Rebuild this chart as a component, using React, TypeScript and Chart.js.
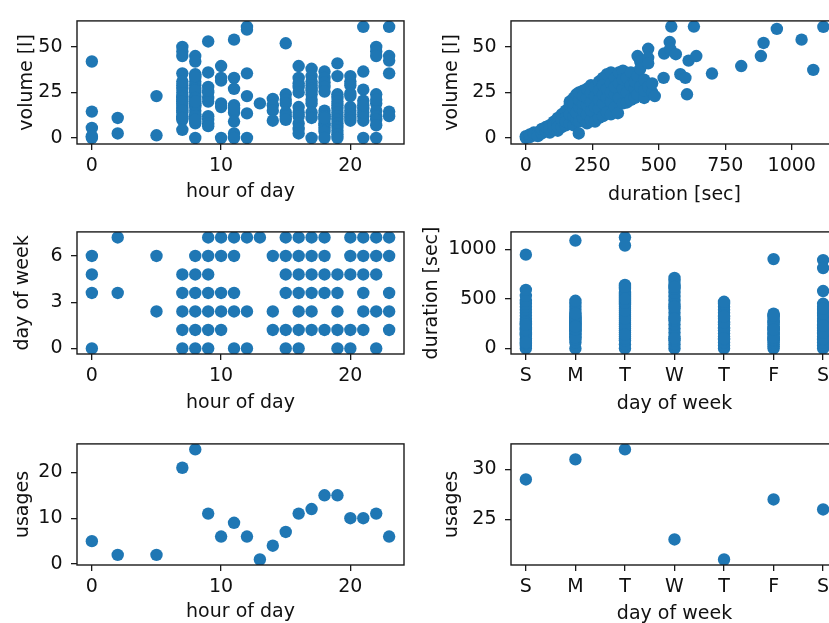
import React, { useEffect, useRef } from 'react';
import { Chart, registerables } from 'chart.js';

Chart.register(...registerables);

// ---------- DATA ----------
const weekLabels = ['S', 'M', 'T', 'W', 'T', 'F', 'S'];

// usages per hour of day
const usageHours = [0, 2, 5, 7, 8, 9, 10, 11, 12, 13, 14, 15, 16, 17, 18, 19, 20, 21, 22, 23];
const usageByHour = [5, 2, 2, 21, 25, 11, 6, 9, 6, 1, 4, 7, 11, 12, 15, 15, 10, 10, 11, 6];

// usages per day of week (index into weekLabels)
const usageDays = [0, 1, 2, 3, 4, 5, 6];
const usageByDay = [29, 31, 32, 23, 21, 27, 26];

// volume [l] of each usage, grouped by hour of day
const volumesByHour: Record<number, number[]> = {
  0: [42, 14.5, 5.5, 0, 1],
  2: [11, 2.5],
  5: [23, 1.5],
  7: [50, 47.5, 45, 35.5, 29, 27, 25, 23, 21, 19, 17.5, 16, 14, 12, 10, 4.5, 31, 22, 20, 15, 11],
  8: [45, 42, 35, 33, 31, 29, 27, 25, 23, 21, 19, 17, 15, 13, 11, 9, 8, 0, 34, 26, 22, 18, 12, 10, 20],
  9: [53, 36, 28, 25, 22, 20, 12, 10, 8, 6.5, 26],
  10: [39.5, 31.5, 33, 19, 17, 0],
  11: [54, 33, 27, 18, 14, 9, 2.5, 0, 16],
  12: [61, 59.5, 35.5, 23, 13.5, 0],
  13: [19],
  14: [21.5, 18, 15, 9.5],
  15: [52, 24, 21, 19, 14, 12, 10],
  16: [39.5, 33, 30, 28, 25, 17, 14, 12, 8, 5, 2.5],
  17: [38, 34, 31, 29, 27, 24, 21, 19, 14, 11, 0, 26],
  18: [36.5, 33, 30.5, 28, 25.5, 15, 13, 12, 10, 8, 7, 5, 3.5, 0, 11],
  19: [41, 34, 24, 22, 20, 18, 16, 14, 12, 10, 8, 6, 4, 2, 0],
  20: [34, 31, 29, 24.5, 17, 15, 13, 11, 9.5, 23],
  21: [61, 36.5, 26.5, 20.5, 16, 12, 9.5, 0, 14, 18],
  22: [50, 47.5, 45, 24, 19, 15, 12, 10, 7, 0, 21],
  23: [61, 45, 42.5, 35.5, 14.5, 12],
};

// (duration [sec], volume [l]) of each usage
const durationVolume: [number, number][] = [
  [0, 0], [0, 1], [15, 0.5], [15, 2], [30, 1.5], [30, 3], [45, 3], [45, 1], [60, 2.5], [60, 5],
  [75, 4], [75, 6], [90, 3], [90, 7], [90, 5], [105, 5], [105, 9], [105, 7], [120, 4], [120, 11],
  [120, 8], [120, 6], [135, 6], [135, 13], [135, 10], [150, 7], [150, 15], [150, 11], [150, 9],
  [165, 8], [165, 18], [165, 13], [165, 20], [180, 7], [180, 12], [180, 16], [180, 22], [180, 19],
  [190, 10], [190, 24], [190, 14], [199, 2.5], [200, 9], [200, 17], [200, 21], [200, 25],
  [215, 11], [215, 15], [215, 19], [215, 26], [215, 23], [230, 8], [230, 13], [230, 18], [230, 22],
  [230, 27], [245, 10], [245, 15], [245, 20], [245, 29], [245, 25], [260, 9], [260, 17], [260, 23],
  [260, 28], [275, 11], [275, 16], [275, 21], [275, 31], [275, 26], [290, 12], [290, 19], [290, 24],
  [290, 33], [290, 29], [305, 14], [305, 22], [305, 27], [305, 35], [320, 13], [320, 20], [320, 30],
  [320, 36], [320, 25], [335, 17], [335, 24], [335, 33], [335, 28], [346, 13.6], [350, 22], [350, 30],
  [350, 36], [365, 19], [365, 27], [365, 37], [365, 32], [380, 19.5], [380, 25], [380, 33],
  [395, 21], [395, 29], [395, 36], [410, 22], [410, 27], [410, 31], [420, 45], [420, 24], [420, 34],
  [430, 42], [430, 28], [430, 38], [445, 22], [445, 26], [445, 32], [460, 49], [460, 44], [460, 41],
  [460, 28], [475, 25], [475, 30], [485, 23],
  [518, 33], [520, 46.4], [541, 52.7], [543, 49], [547, 61.2], [564, 46], [581, 35], [600, 33],
  [606, 24], [612, 42.5], [632, 61.2], [641, 45], [700, 35.4], [810, 39.5], [884, 45], [894, 52.2],
  [944, 59.9], [1037, 54], [1081, 37.4], [1119, 61],
];

// day-of-week value (0 .. 7.2) of each usage, grouped by hour of day
const daysByHour: Record<number, number[]> = {
  0: [6, 4.8, 3.6, 0],
  2: [7.2, 3.6],
  5: [6, 2.4],
  7: [4.8, 3.6, 2.4, 1.2, 0],
  8: [6, 4.8, 3.6, 2.4, 1.2, 0],
  9: [7.2, 6, 4.8, 3.6, 2.4, 1.2, 0],
  10: [7.2, 6, 3.6, 2.4, 1.2],
  11: [7.2, 6, 3.6, 2.4, 0],
  12: [7.2, 2.4, 0],
  13: [7.2],
  14: [6, 2.4, 1.2],
  15: [7.2, 6, 4.8, 3.6, 1.2, 0],
  16: [7.2, 6, 4.8, 3.6, 2.4, 1.2, 0],
  17: [7.2, 6, 4.8, 3.6, 2.4, 1.2],
  18: [7.2, 6, 4.8, 3.6, 1.2],
  19: [4.8, 3.6, 2.4, 1.2, 0],
  20: [7.2, 6, 4.8, 1.2, 0],
  21: [7.2, 6, 4.8, 3.6, 2.4, 1.2],
  22: [7.2, 6, 4.8, 2.4, 0],
  23: [7.2, 6, 3.6, 2.4, 1.2],
};

// duration [sec] of each usage, grouped by day of week
const durationsByDay: number[][] = [
  [0, 25, 50, 75, 100, 125, 150, 175, 200, 225, 250, 275, 300, 330, 360, 390, 420, 450, 480, 530, 590, 945, 140, 210, 260, 160, 60, 190, 240],
  [1087, 0, 60, 90, 120, 150, 180, 210, 240, 270, 300, 330, 360, 390, 420, 450, 480, 200, 230, 260, 280, 310, 170, 140, 110, 250, 290, 320, 350, 190, 220],
  [1120, 1037, 0, 40, 80, 120, 160, 200, 240, 280, 320, 360, 400, 440, 480, 520, 560, 600, 640, 100, 180, 260, 340, 420, 540, 620, 220, 300, 380, 460, 500, 140],
  [0, 40, 80, 120, 160, 200, 240, 280, 320, 360, 400, 440, 480, 520, 560, 600, 640, 680, 710, 100, 300, 420, 620],
  [0, 30, 60, 90, 120, 150, 180, 210, 240, 270, 300, 330, 360, 390, 420, 450, 470, 200, 260, 320, 100],
  [900, 0, 20, 40, 60, 80, 100, 120, 140, 160, 180, 200, 220, 240, 260, 280, 300, 320, 340, 350, 90, 150, 210, 270, 330, 110, 190],
  [890, 810, 578, 0, 30, 60, 90, 120, 150, 180, 210, 240, 270, 300, 330, 360, 390, 420, 450, 100, 200, 280, 350, 160, 230, 400],
];

// tick values
const hourTicks = [0, 10, 20];
const volumeTicks = [0, 25, 50];
const durationTicks = [0, 250, 500, 750, 1000];
const dayValueTicks = [0, 3, 6];
const durationYTicks = [0, 500, 1000];
const usageHourTicks = [0, 10, 20];
const usageDayTicks = [25, 30];
const weekTicks = [0, 1, 2, 3, 4, 5, 6];

// ---------- helpers ----------
const BLUE = '#1f77b4';
const FONT = 'DejaVu Sans';
const FS = 19;
const INK = '#111';

type Pt = { x: number; y: number };

const fromGroups = (g: Record<number, number[]>): Pt[] =>
  Object.keys(g).flatMap((k) => g[Number(k)].map((v) => ({ x: Number(k), y: v })));

const framePlugin = {
  id: 'frame',
  afterDatasetsDraw(chart: any) {
    const { ctx, chartArea: a } = chart;
    ctx.save();
    ctx.strokeStyle = '#1a1a1a';
    ctx.lineWidth = 1.4;
    ctx.strokeRect(a.left, a.top, a.right - a.left, a.bottom - a.top);
    ctx.restore();
  },
};

interface Spec {
  points: Pt[];
  xMin: number; xMax: number; xTicks: number[]; xLabels?: string[]; xTitle: string;
  yMin: number; yMax: number; yTicks: number[]; yTitle: string;
  l: number; t: number; w: number; h: number; yw: number; xh: number; yTitlePad: number;
}

const specs: Spec[] = [
  {
    points: fromGroups(volumesByHour),
    xMin: -1.15, xMax: 24.15, xTicks: hourTicks, xTitle: 'hour of day',
    yMin: -3.3, yMax: 64.3, yTicks: volumeTicks, yTitle: 'volume [l]',
    l: 77, t: 11, w: 327, h: 133, yw: 70, xh: 61, yTitlePad: 8.3,
  },
  {
    points: durationVolume.map(([x, y]) => ({ x, y })),
    xMin: -56, xMax: 1174, xTicks: durationTicks, xTitle: 'duration [sec]',
    yMin: -3.3, yMax: 64.3, yTicks: volumeTicks, yTitle: 'volume [l]',
    l: 511, t: 11, w: 327, h: 133, yw: 90, xh: 64, yTitlePad: 20.1,
  },
  {
    points: fromGroups(daysByHour),
    xMin: -1.15, xMax: 24.15, xTicks: hourTicks, xTitle: 'hour of day',
    yMin: -0.36, yMax: 7.56, yTicks: dayValueTicks, yTitle: 'day of week',
    l: 77, t: 222, w: 327, h: 132, yw: 70, xh: 62, yTitlePad: 4.2,
  },
  {
    points: durationsByDay.flatMap((arr, d) => arr.map((v) => ({ x: d, y: v }))),
    xMin: -0.3, xMax: 6.3, xTicks: weekTicks, xLabels: weekLabels, xTitle: 'day of week',
    yMin: -56, yMax: 1174, yTicks: durationYTicks, yTitle: 'duration [sec]',
    l: 511, t: 222, w: 327, h: 132, yw: 90, xh: 63, yTitlePad: 0.1,
  },
  {
    points: usageHours.map((x, i) => ({ x, y: usageByHour[i] })),
    xMin: -1.15, xMax: 24.15, xTicks: usageHourTicks, xTitle: 'hour of day',
    yMin: -0.2, yMax: 26.2, yTicks: [0, 10, 20], yTitle: 'usages',
    l: 77, t: 434, w: 327, h: 131, yw: 70, xh: 60, yTitlePad: 5.1,
  },
  {
    points: usageDays.map((x, i) => ({ x, y: usageByDay[i] })),
    xMin: -0.3, xMax: 6.3, xTicks: weekTicks, xLabels: weekLabels, xTitle: 'day of week',
    yMin: 20.45, yMax: 32.55, yTicks: usageDayTicks, yTitle: 'usages',
    l: 511, t: 434, w: 327, h: 131, yw: 90, xh: 62, yTitlePad: 19.5,
  },
];

const PT = 10;
const PR = 10;

function makeChart(canvas: HTMLCanvasElement, s: Spec) {
  const font = { family: FONT, size: FS };
  return new Chart(canvas, {
    type: 'scatter',
    data: {
      datasets: [
        {
          data: s.points,
          backgroundColor: BLUE,
          borderColor: BLUE,
          borderWidth: 0,
          pointRadius: 6.2,
          pointHoverRadius: 6.2,
          clip: 0,
        } as any,
      ],
    },
    plugins: [framePlugin],
    options: {
      animation: false,
      responsive: false,
      events: [],
      layout: { padding: { left: 0, top: PT, right: PR, bottom: 0 } },
      plugins: { legend: { display: false }, tooltip: { enabled: false } },
      scales: {
        x: {
          type: 'linear',
          min: s.xMin,
          max: s.xMax,
          afterBuildTicks: (sc: any) => {
            sc.ticks = s.xTicks.map((v) => ({ value: v }));
          },
          afterFit: (sc: any) => {
            sc.height = s.xh;
          },
          ticks: {
            font,
            color: INK,
            padding: 4.4,
            autoSkip: false,
            maxRotation: 0,
            callback: (v: any) => (s.xLabels ? s.xLabels[Number(v)] : String(v)),
          },
          grid: { display: true, drawOnChartArea: false, drawTicks: true, tickLength: 6, color: '#1a1a1a', lineWidth: 1.3 },
          border: { display: false },
          title: { display: true, text: s.xTitle, font, color: INK, padding: { top: 0, bottom: 1.4 } },
        },
        y: {
          type: 'linear',
          min: s.yMin,
          max: s.yMax,
          afterBuildTicks: (sc: any) => {
            sc.ticks = s.yTicks.map((v) => ({ value: v }));
          },
          afterFit: (sc: any) => {
            sc.width = s.yw;
          },
          ticks: {
            font,
            color: INK,
            padding: 8.5,
            autoSkip: false,
            callback: (v: any) => String(v),
          },
          grid: { display: true, drawOnChartArea: false, drawTicks: true, tickLength: 6, color: '#1a1a1a', lineWidth: 1.3 },
          border: { display: false },
          title: { display: true, text: s.yTitle, font, color: INK, padding: { top: s.yTitlePad, bottom: 0 } },
        },
      },
    } as any,
  });
}

export default function App() {
  const refs = useRef<(HTMLCanvasElement | null)[]>([]);

  useEffect(() => {
    const charts = specs.map((s, i) => makeChart(refs.current[i] as HTMLCanvasElement, s));
    return () => charts.forEach((c) => c.destroy());
  }, []);

  return (
    <div
      style={{
        position: 'fixed',
        left: 0,
        top: 0,
        width: 829,
        height: 623,
        overflow: 'hidden',
        background: '#fff',
      }}
    >
      {specs.map((s, i) => {
        const cw = s.yw + s.w + PR;
        const chh = PT + s.h + s.xh;
        return (
          <canvas
            key={i}
            ref={(el) => {
              refs.current[i] = el;
            }}
            width={cw}
            height={chh}
            style={{ position: 'absolute', left: s.l - s.yw, top: s.t - PT, width: cw, height: chh }}
          />
        );
      })}
    </div>
  );
}
